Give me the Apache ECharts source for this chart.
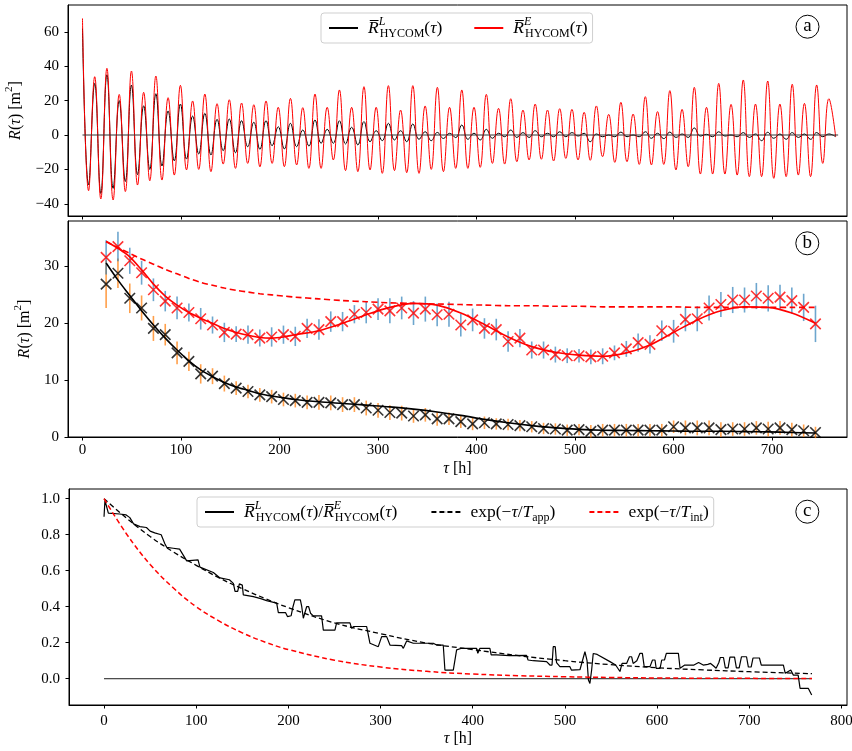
<!DOCTYPE html>
<html><head><meta charset="utf-8">
<script src="https://cdn.jsdelivr.net/npm/echarts@6/dist/echarts.min.js"></script>
<style>html,body{margin:0;padding:0;background:#fff}#c{width:852px;height:751px}</style>
</head><body><div id="c"></div><script>
// ---------- Panel (a): extremes of the lag correlation curves ----------
const tauA = [0,6.2,12.4,18.6,24.8,31.1,37.3,43.5,49.7,55.9,62.1,68.3,74.5,80.7,86.9,93.2,99.4,105.6,111.8,118.0,124.2,130.4,136.6,142.8,149.0,155.3,161.5,167.7,173.9,180.1,186.3,192.5,198.7,204.9,211.1,217.4,223.6,229.8,236.0,242.2,248.4,254.6,260.8,267.0,273.2,279.5,285.7,291.9,298.1,304.3,310.5,316.7,322.9,329.1,335.3,341.6,347.8,354.0,360.2,366.4,372.6,378.8,385.0,391.2,397.4,403.7,409.9,416.1,422.3,428.5,434.7,440.9,447.1,453.3,459.5,465.8,472.0,478.2,484.4,490.6,496.8,503.0,509.2,515.4,521.6,527.9,534.1,540.3,546.5,552.7,558.9,565.1,571.3,577.5,583.7,590.0,596.2,602.4,608.6,614.8,621.0,627.2,633.4,639.6,645.8,652.1,658.3,664.5,670.7,676.9,683.1,689.3,695.5,701.7,707.9,714.2,720.4,726.6,732.8,739.0,745.2,751.4,757.6,764.5];
const redA = [67.8,-32.4,33.9,-37.2,38.8,-37.8,23.6,-32.9,37.2,-29.1,
  24.8,-26.6,34.3,-26.2,21.7,-23.3,28.9,-20.3,19.8,-20.0,
  23.8,-21.3,18.2,-16.9,20.5,-19.4,18.6,-16.5,17.6,-18.5,
  19.8,-16.5,16.1,-18.4,21.3,-17.4,15.9,-19.4,23.8,-19.4,
  16.1,-14.5,26.2,-20.7,16.1,-21.3,28.1,-20.3,16.1,-22.3,
  28.7,-20.7,14.5,-21.9,28.7,-22.3,16.9,-20.0,27.7,-21.3,
  16.1,-19.4,26.2,-19.4,16.1,-18.8,23.6,-16.5,15.5,-16.9,
  21.1,-15.5,14.5,-14.5,18.0,-14.1,14.5,-15.1,15.3,-13.6,
  14.9,-14.5,13.2,-14.7,16.9,-12.6,12.0,-15.9,19.0,-15.5,
  12.2,-17.1,22.3,-17.4,13.6,-17.1,25.8,-20.3,14.9,-18.4,
  27.7,-22.7,16.1,-22.7,30.0,-22.7,17.8,-23.3,32.0,-24.2,
  18.0,-24.2,31.4,-25.2,18.0,-24.2,29.5,-23.3,18.4,-24.2,
  29.1,-16.5,21.1,-1.0];
const blackA = [62,-29,30,-34,35,-31,20,-27,29,-23,
  17,-20,24,-18,14,-15,18,-14,11,-11,
  12.6,-11.6,9.1,-9.1,9.3,-10.3,8.3,-6.8,7.4,-8.3,
  8.3,-6.2,4.8,-8.1,6.8,-6.8,2.9,-6.4,8.7,-4.8,
  3.3,-4.8,8.3,-5.2,4.5,-5.8,7.8,-3.9,2.5,-3.3,
  6.8,-2.9,2.5,-3.9,6.4,-2.5,1.9,-3.3,1.5,-2.0,
  1.0,-1.5,5.8,-2.5,1.0,-2.9,3.3,-1.9,1.0,-1.0,
  2.9,-1.4,1.4,-1.4,2.5,-1.0,1.0,-1.0,1.9,-1.0,
  1.4,-0.6,1.0,-3.9,0.6,-1.0,0.0,-1.0,1.7,-1.0,
  0.0,-1.0,1.9,-1.9,1.0,-2.1,1.7,-1.4,0.6,-1.4,
  4.1,-0.6,0.4,-1.0,1.9,-0.6,0.0,-1.0,1.4,-1.4,
  0.6,-3.3,1.6,-1.9,0.6,-2.5,1.4,-1.4,0.6,-2.5,
  1.4,-1.0,0.6,-1.0];
const zeroSpan = [0, 767];

// ---------- Panel (b): binned values, error bars and fits ----------
const tauB = [24,36,48,60,72,84,96,108,120,132,144,156,168,180,192,204,216,228,240,252,264,276,288,300,312,324,336,348,360,372,384,396,408,420,432,444,456,468,480,492,504,516,528,540,552,564,576,588,600,612,624,636,648,660,672,684,696,708,720,732,744];
const redB = [31.6,33.5,31.0,28.9,25.9,23.9,22.7,21.9,20.8,19.7,18.4,18.1,18.0,17.4,17.6,18.0,17.7,
  19.1,18.9,20.3,20.3,21.6,21.9,22.5,22.2,22.7,21.8,22.5,21.5,21.6,19.7,20.6,19.1,18.9,16.8,17.4,15.3,15.3,14.5,14.3,
  14.3,14.1,14.2,14.8,15.5,16.6,16.3,18.7,18.6,20.7,20.8,22.7,23.3,24.1,24.1,24.8,24.4,24.6,24.0,22.8,19.9];
const errRedB = [3.0,2.6,2.3,2.1,2.0,1.8,2.0,1.6,1.9,1.5,1.7,1.4,1.6,1.5,1.7,1.6,1.7,
  1.7,1.8,1.8,1.7,1.6,1.9,1.9,2.2,2.0,2.1,2.2,2.0,2.2,2.0,2.0,1.8,1.9,1.8,1.6,1.5,1.5,1.4,1.3,
  1.2,1.3,1.4,1.3,1.4,1.6,1.6,1.8,2.0,2.1,2.2,2.2,2.2,2.3,2.2,2.3,2.3,2.2,2.3,2.4,3.2];
const blackB = [26.9,28.8,24.4,22.7,19.1,18.0,14.8,13.3,11.1,10.7,9.4,8.6,8.0,7.4,7.1,6.6,6.4,
  6.1,6.1,6.0,5.7,5.7,5.1,4.7,4.3,4.2,3.7,3.9,3.2,3.2,2.7,2.3,2.5,2.3,2.2,2.0,1.8,1.5,1.4,1.2,
  1.3,1.0,1.2,1.2,1.2,1.2,1.2,1.2,1.8,1.6,1.6,1.6,1.3,1.4,1.4,1.6,1.4,1.6,1.3,1.1,0.8];
const errBlackB = [4.2,2.6,2.6,2.2,2.2,1.9,2.0,1.7,1.7,1.4,1.4,1.2,1.2,1.2,1.2,1.2,1.2,
  1.2,1.3,1.3,1.3,1.3,1.3,1.3,1.3,1.3,1.2,1.2,1.2,1.1,1.1,1.1,1.1,1.0,1.0,1.0,1.0,1.0,1.0,1.0,
  1.0,1.1,1.1,1.1,1.1,1.1,1.1,1.1,1.1,1.3,1.3,1.3,1.3,1.2,1.2,1.2,1.3,1.2,1.2,1.1,1.0];
const tauFit = [24,36,48,60,72,84,96,108,120,132,144,156,168,180,192,204,216,240,264,288,312,336,360,384,408,432,456,480,504,528,552,576,600,624,648,672,696,720,744];
const fitBlack = [30.6,27.6,24.9,22.2,19.7,17.4,15.3,13.4,11.8,10.6,9.6,8.8,8.2,7.6,7.2,6.9,6.6,6.2,5.9,5.6,5.3,4.9,4.4,3.8,3.1,2.5,2.0,1.6,1.35,1.2,1.15,1.1,1.05,1.0,1.0,0.95,0.9,0.8,0.7];
const fitRed = [34.4,33.2,31.7,29.4,26.9,24.8,23.2,21.9,20.9,20.0,19.1,18.4,17.9,17.5,17.4,17.6,18.0,18.7,20.0,21.5,22.8,23.5,23.2,21.8,19.8,17.6,15.9,14.9,14.4,14.2,14.8,16.2,18.4,20.6,22.2,22.9,22.8,21.8,20.0];
const fitRedDash = [34.4,33.3,32.3,31.3,30.4,29.5,28.7,27.9,27.2,26.7,26.2,25.8,25.5,25.2,25.0,24.8,24.6,24.3,24.0,23.8,23.6,23.5,23.4,23.3,23.2,23.1,23.1,23.0,23.0,22.9,22.9,22.9,22.9,22.8,22.8,22.8,22.8,22.8,22.8];

// ---------- Panel (c): ratio and exponentials ----------
const tauRatio = [0,1,2.5,4.7,17,24,28,32,39,46,50,55,62,66,68,75,82,84,89.7,102,104,118.6,125.8,136,140.3,142.1,145,146.8,150,151.1,162,170,176.4,187.3,189.1,197,199,203,205,207,213,214.5,216.2,218,219.8,222,224,227,236,237.9,250.5,252.3,266.8,268.6,271,284.9,286,288.5,297.5,301.2,306.6,310.2,322.8,324.7,328.3,335.5,357.2,360.8,368,369.8,378.9,382.5,387.9,404.2,405.5,407.8,418.6,420,425.9,440,458.4,460,465.6,480.1,483.7,486,487.3,489.5,490.9,494.6,505.4,507,516.3,519,521.7,524,525.5,527.1,529,530.7,535,548.8,555,559.7,562,566.9,570,572.4,574,578,581.4,584,586,592.3,595,597.7,599,603.2,605,608,610,623.1,624.9,630,640,645,650,655,658,661,664,667,668.5,672,674,677,679,684,686,689,691.5,697,699,702,704,711,713,737,739,745,747.8,753,755.1,764.1,767.7];
const ratio = [0.90,0.99,1.0,0.92,0.915,0.91,0.895,0.86,0.845,0.84,0.82,0.81,0.80,0.75,0.73,0.725,0.72,0.71,0.655,0.66,0.62,0.59,0.56,0.55,0.53,0.485,0.485,0.527,0.52,0.466,0.456,0.445,0.434,0.42,0.367,0.367,0.345,0.35,0.40,0.438,0.438,0.40,0.336,0.34,0.40,0.40,0.364,0.349,0.349,0.27,0.27,0.31,0.31,0.28,0.29,0.29,0.28,0.197,0.178,0.234,0.234,0.187,0.184,0.169,0.21,0.197,0.197,0.187,0.187,0.048,0.048,0.16,0.169,0.169,0.141,0.169,0.169,0.132,0.132,0.128,0.13,0.104,0.10,0.095,0.076,0.076,0.178,0.178,0.09,0.067,0.067,0.048,0.05,0.10,0.15,0.10,-0.007,-0.026,0.05,0.14,0.135,0.095,0.076,0.04,0.085,0.085,0.122,0.122,0.085,0.10,0.141,0.141,0.067,0.067,0.104,0.104,0.058,0.058,0.104,0.104,0.141,0.141,0.058,0.076,0.076,0.09,0.076,0.08,0.085,0.072,0.058,0.09,0.118,0.118,0.06,0.06,0.12,0.12,0.06,0.06,0.122,0.122,0.065,0.065,0.115,0.115,0.076,0.076,0.03,0.048,0.02,0.02,-0.054,-0.054,-0.09];
const tauExp = [0,25,50,75,100,125,150,175,200,250,300,350,400,450,500,550,600,650,700,768];
const expApp = [1.0,0.89,0.79,0.705,0.63,0.56,0.50,0.445,0.395,0.31,0.25,0.198,0.162,0.128,0.10,0.078,0.061,0.049,0.039,0.028];
const expInt = [1.0,0.80,0.635,0.505,0.40,0.32,0.255,0.203,0.162,0.103,0.065,0.041,0.026,0.017,0.011,0.007,0.004,0.003,0.002,0.001];

// tick labels
const xTicksAB = [0,100,200,300,400,500,600,700];
const yTicksA = [-40,-20,0,20,40,60];
const yTicksB = [0,10,20,30];
const xTicksC = [0,100,200,300,400,500,600,700,800];
const yTicksC = [0,0.2,0.4,0.6,0.8,1.0];

const F = 'Liberation Serif';
const zip = (xs, ys) => xs.map((x, i) => [x, ys[i]]);
const zip3 = (xs, ys, es) => xs.map((x, i) => [x, ys[i], es[i]]);

function makeRich(main, supS, subS) {
  return {
    sp: {fontFamily: F, fontSize: main, lineHeight: 24, width: 5},
    i: {fontFamily: F, fontStyle: 'italic', fontSize: main, lineHeight: 24, color: '#000'},
    n: {fontFamily: F, fontSize: main, lineHeight: 24, color: '#000'},
    sup: {fontFamily: F, fontStyle: 'italic', fontSize: supS, lineHeight: supS, verticalAlign: 'top', width: 1, color: '#000'},
    sub: {fontFamily: F, fontSize: subS, lineHeight: subS, verticalAlign: 'bottom', color: '#000'},
    s2: {fontFamily: F, fontSize: supS, lineHeight: supS, verticalAlign: 'top', color: '#000'}
  };
}
const richLegend = makeRich(17.5, 12, 12);
const richName = makeRich(16, 11, 10);
const RL = '{i|R\u0305}{sup|L}{sub|HYCOM}{n|(}{i|τ}{n|)}';
const RE = '{i|R\u0305}{sup|E}{sub|HYCOM}{n|(}{i|τ}{n|)}';
const legendText = {
  RL: '{sp| }' + RL, RE: '{sp| }' + RE,
  ratio: '{sp| }' + RL + '{n|/}' + RE,
  app: '{sp| }{n|exp(−}{i|τ}{n|/}{i|T}{sub|app}{n|)}',
  int: '{sp| }{n|exp(−}{i|τ}{n|/}{i|T}{sub|int}{n|)}'
};
const yName = '{i|R}{n|(}{i|τ}{n|) [m}{s2|2}{n|]}';
const xName = '{i|τ}{n| [h]}';

const axisCommon = {
  type: 'value',
  axisLine: {show: true, onZero: false, lineStyle: {color: '#000', width: 1}},
  axisTick: {show: true, length: 3.5, lineStyle: {color: '#000', width: 1}},
  splitLine: {show: false},
  axisLabel: {fontFamily: F, fontSize: 15, color: '#000'}
};
function xAx(grid, min, max, ticks, showLabel, margin, name, gap) {
  return Object.assign({}, axisCommon, {
    gridIndex: grid, min: min, max: max,
    axisTick: Object.assign({}, axisCommon.axisTick, {customValues: ticks}),
    axisLabel: Object.assign({}, axisCommon.axisLabel, {show: showLabel, customValues: ticks, margin: margin}),
    name: name, nameLocation: 'middle', nameGap: gap,
    nameTextStyle: {rich: richName}
  });
}
function yAx(grid, min, max, ticks, fmt, margin, name, gap) {
  return Object.assign({}, axisCommon, {
    gridIndex: grid, min: min, max: max,
    axisTick: Object.assign({}, axisCommon.axisTick, {customValues: ticks}),
    axisLabel: Object.assign({}, axisCommon.axisLabel, {customValues: ticks, margin: margin, formatter: fmt}),
    name: name, nameLocation: 'middle', nameGap: gap, nameRotate: 90,
    nameTextStyle: {rich: richName}
  });
}
const fmtInt = v => (v < 0 ? '−' : '') + Math.abs(v);
const fmtDec = v => (v < 0 ? '−' : '') + Math.abs(v).toFixed(1);

function errRender(params, api) {
  const x = api.value(0), y = api.value(1), e = api.value(2);
  const p1 = api.coord([x, y - e]);
  const p2 = api.coord([x, y + e]);
  return {type: 'line', shape: {x1: p1[0], y1: p1[1], x2: p2[0], y2: p2[1]},
    style: {stroke: api.visual('color'), lineWidth: 1.6}};
}
const crossPath = 'path://M0,0L10,10M10,0L0,10';

function legendBox(left, top, names, gap) {
  return {
    data: names, left: left, top: top, orient: 'horizontal',
    itemWidth: 29, itemHeight: 1, itemGap: gap,
    padding: [3, 5, 3, 7],
    backgroundColor: 'rgba(255,255,255,0.85)', borderColor: '#cfcfcf', borderWidth: 1, borderRadius: 3,
    selectedMode: false,
    textStyle: {fontFamily: F, fontSize: 17.5, color: '#000', rich: richLegend},
    formatter: n => legendText[n]
  };
}
function circ(cx, cy, t) {
  return [
    {type: 'circle', shape: {cx: cx, cy: cy, r: 11.5}, style: {fill: '#fff', stroke: '#000', lineWidth: 1}, z: 100},
    {type: 'text', x: cx, y: cy - 0.5, z: 101, style: {text: t, fontFamily: F, fontSize: 19, fill: '#000', align: 'center', verticalAlign: 'middle'}}
  ];
}

const chart = echarts.init(document.getElementById('c'), null, {renderer: 'canvas'});
chart.setOption({
  animation: false,
  backgroundColor: '#fff',
  grid: [
    {left: 68, top: 5, width: 779, height: 211, show: true, borderColor: '#000', borderWidth: 1, outerBoundsMode: 'none', containLabel: false},
    {left: 68, top: 221, width: 779, height: 216, show: true, borderColor: '#000', borderWidth: 1, outerBoundsMode: 'none', containLabel: false},
    {left: 69, top: 489, width: 778, height: 216, show: true, borderColor: '#000', borderWidth: 1, outerBoundsMode: 'none', containLabel: false}
  ],
  xAxis: [
    xAx(0, -14.7, 776, xTicksAB, false, 6, '', 0),
    xAx(1, -14.7, 776, xTicksAB, true, 6, xName, 20),
    xAx(2, -38, 806, xTicksC, true, 9, xName, 22)
  ],
  yAxis: [
    yAx(0, -47.1, 75.6, yTicksA, fmtInt, 9, yName, 40),
    yAx(1, 0, 38, yTicksB, fmtInt, 9, yName, 28),
    yAx(2, -0.146, 1.054, yTicksC, fmtDec, 9, '', 0)
  ],
  legend: [
    legendBox(321, 13, ['RL', 'RE'], 31),
    legendBox(197, 497, ['ratio', 'app', 'int'], 33)
  ],
  graphic: [].concat(circ(807.5, 26.7, 'a'), circ(807.3, 243.3, 'b'), circ(807.3, 511.7, 'c')),
  series: [
    // panel a
    {name: 'RL', type: 'line', xAxisIndex: 0, yAxisIndex: 0, data: zip(tauA, blackA), smooth: 0.45,
      symbol: 'none', color: '#000', lineStyle: {color: '#000', width: 1}},
    {name: 'RE', type: 'line', xAxisIndex: 0, yAxisIndex: 0, data: zip(tauA, redA), smooth: 0.45,
      symbol: 'none', color: '#ff0000', lineStyle: {color: '#ff0000', width: 1}},
    {name: 'zeroA', type: 'line', xAxisIndex: 0, yAxisIndex: 0, data: zeroSpan.map(t => [t, 0]),
      symbol: 'none', silent: true, lineStyle: {color: '#333', width: 1}},
    // panel b
    {name: 'errL', type: 'custom', xAxisIndex: 1, yAxisIndex: 1, renderItem: errRender,
      data: zip3(tauB, blackB, errBlackB), itemStyle: {color: 'rgba(255,127,14,0.75)'}, silent: true},
    {name: 'errR', type: 'custom', xAxisIndex: 1, yAxisIndex: 1, renderItem: errRender,
      data: zip3(tauB, redB, errRedB), itemStyle: {color: 'rgba(31,119,180,0.65)'}, silent: true},
    {name: 'fitRd', type: 'line', xAxisIndex: 1, yAxisIndex: 1, data: zip(tauFit, fitRedDash), smooth: 0.3,
      symbol: 'none', lineStyle: {color: '#ff0000', width: 1.6, type: [6, 3.5]}},
    {name: 'fitL', type: 'line', xAxisIndex: 1, yAxisIndex: 1, data: zip(tauFit, fitBlack), smooth: 0.3,
      symbol: 'none', lineStyle: {color: '#000', width: 1.6}},
    {name: 'fitR', type: 'line', xAxisIndex: 1, yAxisIndex: 1, data: zip(tauFit, fitRed), smooth: 0.3,
      symbol: 'none', lineStyle: {color: '#ff0000', width: 1.6}},
    {name: 'ptL', type: 'scatter', xAxisIndex: 1, yAxisIndex: 1, data: zip(tauB, blackB),
      symbol: crossPath, symbolSize: 10.5, itemStyle: {color: 'rgba(0,0,0,0)', borderColor: '#000', borderWidth: 1.6}},
    {name: 'ptR', type: 'scatter', xAxisIndex: 1, yAxisIndex: 1, data: zip(tauB, redB),
      symbol: crossPath, symbolSize: 10.5, itemStyle: {color: 'rgba(0,0,0,0)', borderColor: '#ff0000', borderWidth: 1.6}},
    // panel c
    {name: 'zeroC', type: 'line', xAxisIndex: 2, yAxisIndex: 2, data: [[0, 0], [768, 0]],
      symbol: 'none', silent: true, lineStyle: {color: '#000', width: 0.9}},
    {name: 'ratio', type: 'line', xAxisIndex: 2, yAxisIndex: 2, data: zip(tauRatio, ratio),
      symbol: 'none', color: '#000', lineStyle: {color: '#000', width: 1.2}},
    {name: 'app', type: 'line', xAxisIndex: 2, yAxisIndex: 2, data: zip(tauExp, expApp), smooth: 0.4,
      symbol: 'none', color: '#000', lineStyle: {color: '#000', width: 1.3, type: [5, 3]}},
    {name: 'int', type: 'line', xAxisIndex: 2, yAxisIndex: 2, data: zip(tauExp, expInt), smooth: 0.4,
      symbol: 'none', color: '#ff0000', lineStyle: {color: '#ff0000', width: 1.5, type: [5, 3]}}
  ]
});
</script></body></html>
